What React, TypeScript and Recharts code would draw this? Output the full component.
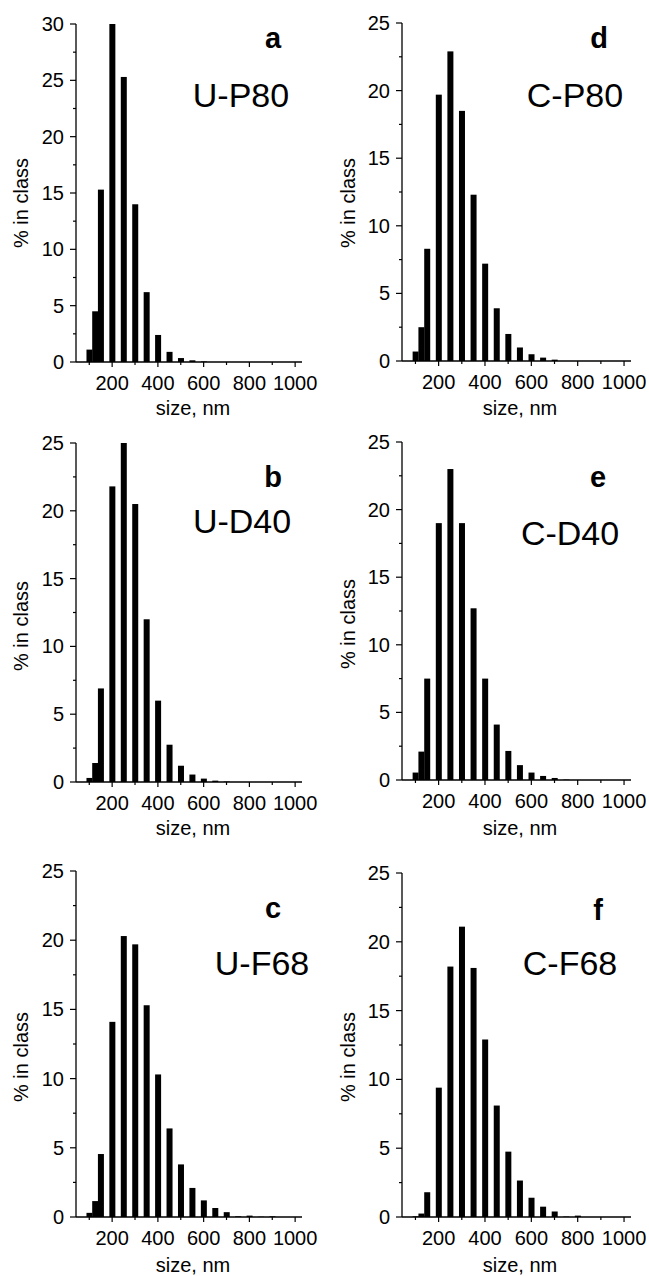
import { BarChart, Bar, XAxis, YAxis } from "recharts";

const sizeClasses = [100, 125, 150, 200, 250, 300, 350, 400, 450, 500, 550, 600, 650, 700, 750, 800, 850, 900, 950, 1000];

const uP80 = [1.1, 4.5, 15.3, 30, 25.3, 14.0, 6.2, 2.4, 0.9, 0.35, 0.15, 0.05, 0, 0, 0, 0, 0, 0, 0, 0];
const uD40 = [0.3, 1.4, 6.9, 21.8, 25, 20.5, 12, 6, 2.75, 1.2, 0.55, 0.25, 0.1, 0.03, 0, 0, 0, 0, 0, 0];
const uF68 = [0.3, 1.15, 4.55, 14.1, 20.3, 19.7, 15.3, 10.3, 6.4, 3.8, 2.1, 1.2, 0.65, 0.35, 0.05, 0.1, 0.02, 0.05, 0, 0];
const cP80 = [0.7, 2.5, 8.3, 19.7, 22.9, 18.5, 12.3, 7.2, 3.9, 2.0, 1.0, 0.5, 0.25, 0.1, 0, 0, 0, 0, 0, 0];
const cD40 = [0.55, 2.1, 7.5, 19, 23, 19, 12.7, 7.5, 4.1, 2.15, 1.1, 0.55, 0.3, 0.15, 0.03, 0, 0, 0, 0, 0];
const cF68 = [0.05, 0.25, 1.8, 9.4, 18.2, 21.1, 18.1, 12.9, 8.1, 4.75, 2.65, 1.4, 0.75, 0.4, 0.03, 0.1, 0, 0, 0, 0];

const xTicks = [100, 200, 300, 400, 500, 600, 700, 800, 900, 1000];
const yTicks30 = [0, 2.5, 5, 7.5, 10, 12.5, 15, 17.5, 20, 22.5, 25, 27.5, 30];
const yTicks25 = [0, 2.5, 5, 7.5, 10, 12.5, 15, 17.5, 20, 22.5, 25];

const FONT = "'Liberation Sans', Arial, sans-serif";

const toRows = (values: number[]) => sizeClasses.map((size, i) => ({ size, pct: values[i] }));

// panel placement on the page: left column x 0, right column x 325
const panels = [
  { values: uP80, yMax: 30, ticks: yTicks30, left: 0, top: 0, height: 425, plotTop: 24, plotBottom: 362, letter: "a", name: "U-P80", letterPos: [273, 48], namePos: [241, 107], yLabelY: 203, titleY: 415 },
  { values: cP80, yMax: 25, ticks: yTicks25, left: 325, top: 0, height: 425, plotTop: 23, plotBottom: 361, letter: "d", name: "C-P80", letterPos: [599, 48], namePos: [575, 107], yLabelY: 203, titleY: 415 },
  { values: uD40, yMax: 25, ticks: yTicks25, left: 0, top: 425, height: 425, plotTop: 443, plotBottom: 782, letter: "b", name: "U-D40", letterPos: [273, 487], namePos: [242, 533], yLabelY: 626, titleY: 835 },
  { values: cD40, yMax: 25, ticks: yTicks25, left: 325, top: 425, height: 425, plotTop: 442, plotBottom: 780, letter: "e", name: "C-D40", letterPos: [598, 487], namePos: [570, 545], yLabelY: 624, titleY: 835 },
  { values: uF68, yMax: 25, ticks: yTicks25, left: 0, top: 850, height: 426, plotTop: 871, plotBottom: 1217, letter: "c", name: "U-F68", letterPos: [273, 918], namePos: [262, 975], yLabelY: 1057, titleY: 1272 },
  { values: cF68, yMax: 25, ticks: yTicks25, left: 325, top: 850, height: 426, plotTop: 873, plotBottom: 1217, letter: "f", name: "C-F68", letterPos: [598, 920], namePos: [570, 975], yLabelY: 1057, titleY: 1272 },
];

const XTick = (props: any) => {
  const { x, y, payload } = props;
  const major = payload.value % 200 === 0;
  return (
    <g>
      <line x1={x} x2={x} y1={y} y2={y + (major ? 5 : 3)} stroke="#000" strokeWidth={1.2} />
      {major && (
        <text x={x} y={y + 28} textAnchor="middle" fontSize={20} fontFamily={FONT} fill="#000">
          {payload.value}
        </text>
      )}
    </g>
  );
};

const YTick = (props: any) => {
  const { x, y, payload } = props;
  const major = payload.value % 5 === 0;
  return (
    <g>
      <line x1={x - (major ? 6 : 3)} x2={x} y1={y} y2={y} stroke="#000" strokeWidth={1.2} />
      {major && (
        <text x={x - 12} y={y + 7} textAnchor="end" fontSize={20} fontFamily={FONT} fill="#000">
          {payload.value}
        </text>
      )}
    </g>
  );
};

// fixed 6px bars centred on the class value
const NarrowBar = (props: any) => {
  const { x, y, width, height } = props;
  if (!height || height <= 0) return null;
  return <rect x={x + width / 2 - 3} y={y} width={6} height={height} fill="#000" />;
};

function Panel({ p }: { p: (typeof panels)[number] }) {
  const isLeft = p.left === 0;
  const width = isLeft ? 325 : 324;
  const yAxisWidth = isLeft ? 76 : 77;
  const marginRight = isLeft ? 23 : 18;
  const marginTop = p.plotTop - p.top;
  const xAxisHeight = p.top + p.height - p.plotBottom;
  return (
    <div style={{ position: "absolute", left: p.left, top: p.top }}>
      <BarChart
        width={width}
        height={p.height}
        data={toRows(p.values)}
        margin={{ top: marginTop, right: marginRight, bottom: 0, left: 0 }}
      >
        <XAxis
          dataKey="size"
          type="number"
          domain={[42, 1030]}
          ticks={xTicks}
          interval={0}
          height={xAxisHeight}
          tickSize={0}
          tickMargin={0}
          tickLine={false}
          tick={<XTick />}
          axisLine={{ stroke: "#000", strokeWidth: 1.3 }}
        />
        <YAxis
          type="number"
          domain={[0, p.yMax]}
          ticks={p.ticks}
          interval={0}
          width={yAxisWidth}
          tickSize={0}
          tickMargin={0}
          tickLine={false}
          tick={<YTick />}
          axisLine={{ stroke: "#000", strokeWidth: 1.3 }}
        />
        <Bar dataKey="pct" fill="#000" shape={<NarrowBar />} isAnimationActive={false} />
      </BarChart>
    </div>
  );
}

export default function App() {
  return (
    <div style={{ position: "absolute", left: 0, top: 0, width: 649, height: 1276, background: "#fff" }}>
      {panels.map((p) => (
        <Panel key={p.letter} p={p} />
      ))}
      <svg
        width={649}
        height={1276}
        style={{ position: "absolute", left: 0, top: 0, pointerEvents: "none" }}
        fontFamily={FONT}
      >
        {panels.map((p) => {
          const isLeft = p.left === 0;
          const labelX = isLeft ? 28 : 355;
          const titleX = isLeft ? 193 : 520;
          return (
            <g key={p.letter}>
              <text x={p.letterPos[0]} y={p.letterPos[1]} textAnchor="middle" fontSize={29} fontWeight="bold" fill="#000">
                {p.letter}
              </text>
              <text x={p.namePos[0]} y={p.namePos[1]} textAnchor="middle" fontSize={34} fill="#000">
                {p.name}
              </text>
              <text
                x={labelX}
                y={p.yLabelY}
                textAnchor="middle"
                fontSize={20}
                fill="#000"
                transform={`rotate(-90, ${labelX}, ${p.yLabelY})`}
              >
                % in class
              </text>
              <text x={titleX} y={p.titleY} textAnchor="middle" fontSize={20} fill="#000">
                size, nm
              </text>
            </g>
          );
        })}
      </svg>
    </div>
  );
}
